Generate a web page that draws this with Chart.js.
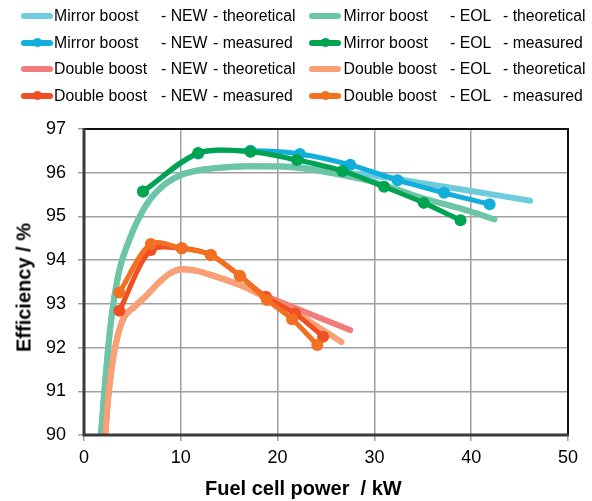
<!DOCTYPE html>
<html>
<head>
<meta charset="utf-8">
<script src="https://cdn.jsdelivr.net/npm/chart.js@4/dist/chart.umd.min.js"></script>
<style>
  html, body { margin: 0; padding: 0; background: #fff; }
  #wrap { position: relative; width: 592px; height: 501px; font-family: "Liberation Sans", Arial, sans-serif; color: #000; }
  #c { position: absolute; left: 0; top: 0; }
  .row { position: absolute; height: 20px; line-height: 20px; font-size: 15.8px; white-space: pre; }
  .row span { position: absolute; top: 0; }
  .smp { position: absolute; height: 6px; border-radius: 3px; }
  .dot { position: absolute; width: 9px; height: 9px; border-radius: 50%; }
  .xt { position: absolute; font-weight: bold; font-size: 20px; white-space: pre; }
  .yt { position: absolute; font-weight: bold; font-size: 20px; white-space: pre; transform: rotate(-90deg); transform-origin: center center; }
</style>
</head>
<body>
<div id="wrap">
  <canvas id="c" width="592" height="501"></canvas>
  <div id="legend"></div>
  <div class="xt" id="xtitle">Fuel cell power  / kW</div>
  <div class="yt" id="ytitle">Efficiency / %</div>
</div>
<script>
// ---- Data ----
const xTicks = [0, 10, 20, 30, 40, 50];
const yTicks = [90, 91, 92, 93, 94, 95, 96, 97];

// Mirror boost - NEW - theoretical
const mirrorNewTheoX = [1.75, 2.1, 2.5, 2.9, 3.4, 3.8, 4.4, 5.4, 6.8, 8.5, 10, 11.5, 13.4, 16.8, 20.3, 23.7, 26.5, 30, 35, 40, 46.1];
const mirrorNewTheoY = [90, 91, 92, 92.8, 93.5, 93.9, 94.3, 94.84, 95.38, 95.76, 95.95, 96.04, 96.1, 96.15, 96.15, 96.09, 96.01, 95.93, 95.76, 95.58, 95.36];
// Mirror boost - EOL - theoretical
const mirrorEolTheoX = [1.75, 2.1, 2.5, 2.9, 3.4, 3.8, 4.4, 5.4, 6.8, 8.5, 10, 11.5, 13.4, 16.8, 20.3, 23.7, 26.5, 30, 35, 40, 42.4];
const mirrorEolTheoY = [90, 91, 92, 92.8, 93.5, 93.9, 94.3, 94.84, 95.38, 95.76, 95.95, 96.04, 96.1, 96.15, 96.14, 96.06, 95.95, 95.78, 95.42, 95.11, 94.93];
// Mirror boost - NEW - measured
const mirrorNewMeasX = [6.1, 11.8, 17.2, 22.3, 27.5, 32.4, 37.2, 41.9];
const mirrorNewMeasY = [95.57, 96.44, 96.5, 96.43, 96.18, 95.83, 95.54, 95.28];
// Mirror boost - EOL - measured
const mirrorEolMeasX = [6.1, 11.8, 17.2, 22.0, 26.7, 31.0, 35.1, 38.9];
const mirrorEolMeasY = [95.57, 96.45, 96.48, 96.29, 96.04, 95.68, 95.31, 94.91];
// Double boost - NEW - theoretical
const doubleNewTheoX = [2.2, 2.5, 2.9, 3.4, 4.1, 5.2, 6.5, 7.7, 8.9, 10.1, 11.5, 13.4, 16.1, 18.9, 21, 24, 27.5];
const doubleNewTheoY = [90, 90.85, 91.6, 92.2, 92.68, 92.93, 93.2, 93.48, 93.7, 93.79, 93.76, 93.64, 93.43, 93.17, 92.98, 92.71, 92.4];
// Double boost - EOL - theoretical
const doubleEolTheoX = [2.2, 2.5, 2.9, 3.4, 4.1, 5.2, 6.5, 7.7, 8.9, 10.1, 11.5, 13.4, 16.1, 18.9, 21, 24, 26.6];
const doubleEolTheoY = [90, 90.85, 91.6, 92.2, 92.68, 92.93, 93.2, 93.48, 93.7, 93.79, 93.76, 93.64, 93.43, 93.13, 92.9, 92.5, 92.13];
// Double boost - NEW - measured
const doubleNewMeasX = [3.65, 6.9, 10.1, 13.1, 16.1, 18.8, 21.8, 24.7];
const doubleNewMeasY = [92.84, 94.23, 94.27, 94.12, 93.64, 93.16, 92.78, 92.25];
// Double boost - EOL - measured
const doubleEolMeasX = [3.65, 6.9, 10.1, 13.1, 16.1, 18.9, 21.5, 24.1];
const doubleEolMeasY = [93.26, 94.37, 94.27, 94.12, 93.64, 93.09, 92.65, 92.06];

const seriesNames = [
  ["Mirror boost ", "- NEW ", "- theoretical"],
  ["Mirror boost ", "- EOL ", "- theoretical"],
  ["Mirror boost ", "- NEW ", "- measured"],
  ["Mirror boost ", "- EOL ", "- measured"],
  ["Double boost ", "- NEW ", "- theoretical"],
  ["Double boost ", "- EOL ", "- theoretical"],
  ["Double boost ", "- NEW ", "- measured"],
  ["Double boost ", "- EOL ", "- measured"]
];
const colors = ["#6ecbdc", "#6cc5a5", "#12aedc", "#00a34f", "#f27b7b", "#f9a174", "#f04e23", "#f37021"];
const measured = [false, false, true, true, false, false, true, true];
const drawOrder = [8, 7, 4, 3, 6, 5, 2, 1]; // lower = drawn on top

const xs = [mirrorNewTheoX, mirrorEolTheoX, mirrorNewMeasX, mirrorEolMeasX, doubleNewTheoX, doubleEolTheoX, doubleNewMeasX, doubleEolMeasX];
const ys = [mirrorNewTheoY, mirrorEolTheoY, mirrorNewMeasY, mirrorEolMeasY, doubleNewTheoY, doubleEolTheoY, doubleNewMeasY, doubleEolMeasY];

const datasets = xs.map((xa, i) => ({
  label: seriesNames[i].join(''),
  data: xa.map((x, j) => ({ x: x, y: ys[i][j] })),
  borderColor: colors[i],
  backgroundColor: colors[i],
  borderWidth: measured[i] ? 5 : 6,
  pointRadius: measured[i] ? 6 : 0,
  pointHoverRadius: measured[i] ? 6 : 0,
  pointBorderWidth: 0,
  tension: measured[i] ? 0.3 : 0.4,
  cubicInterpolationMode: measured[i] ? 'default' : 'monotone',
  borderCapStyle: 'round',
  borderJoinStyle: 'round',
  fill: false,
  order: drawOrder[i]
}));

// ---- Legend (HTML) ----
const legend = document.getElementById('legend');
const rowY = [16, 42.5, 69, 95.5];
const colDefs = [
  { sx: 21, t: [54, 161, 213] },
  { sx: 309, t: [343.5, 450, 503] }
];
seriesNames.forEach((nm, i) => {
  const col = colDefs[i % 2];
  const y = rowY[Math.floor(i / 2)];
  const s = document.createElement('div');
  s.className = 'smp';
  s.style.left = col.sx + 'px';
  s.style.width = '32px';
  s.style.top = (y - 3) + 'px';
  s.style.background = colors[i];
  legend.appendChild(s);
  if (measured[i]) {
    const d = document.createElement('div');
    d.className = 'dot';
    d.style.left = (col.sx + 16 - 4.5) + 'px';
    d.style.top = (y - 4.5) + 'px';
    d.style.background = colors[i];
    legend.appendChild(d);
  }
  const r = document.createElement('div');
  r.className = 'row';
  r.style.left = '0px';
  r.style.top = (y - 10) + 'px';
  r.style.width = '592px';
  nm.forEach((part, k) => {
    const sp = document.createElement('span');
    sp.textContent = part;
    sp.style.left = col.t[k] + 'px';
    r.appendChild(sp);
  });
  legend.appendChild(r);
});

// axis titles
const xt = document.getElementById('xtitle');
xt.style.left = '205px';
xt.style.top = '477px';
const yt = document.getElementById('ytitle');
yt.style.left = (24 - 70) + 'px';
yt.style.top = (288 - 12) + 'px';
yt.style.width = '140px';
yt.style.textAlign = 'center';

const framePlugin = {
  id: 'frame',
  afterDatasetsDraw(chart) {
    const { ctx, chartArea: a } = chart;
    ctx.save();
    ctx.strokeStyle = '#111';
    ctx.lineWidth = 2;
    ctx.beginPath();
    ctx.moveTo(a.left, a.top);
    ctx.lineTo(a.right, a.top);
    ctx.lineTo(a.right, a.bottom);
    ctx.stroke();
    ctx.strokeStyle = '#3a3a3a';
    ctx.lineWidth = 3;
    ctx.beginPath();
    ctx.moveTo(a.left, a.top - 1);
    ctx.lineTo(a.left, a.bottom);
    ctx.lineTo(a.right + 1, a.bottom);
    ctx.stroke();
    ctx.restore();
  }
};

new Chart(document.getElementById('c'), {
  type: 'line',
  data: { datasets: datasets },
  plugins: [framePlugin],
  options: {
    responsive: false,
    animation: false,
    events: [],
    layout: { padding: { left: 0, top: 129, right: 24, bottom: 0 } },
    plugins: { legend: { display: false }, tooltip: { enabled: false } },
    scales: {
      x: {
        type: 'linear',
        min: xTicks[0], max: xTicks[xTicks.length - 1],
        afterBuildTicks(s) { s.ticks = xTicks.map(v => ({ value: v })); },
        afterFit(s) { s.height = 66; },
        grid: { color: '#a0a0a0', lineWidth: 1.5, tickLength: 6, drawTicks: true },
        border: { display: false },
        ticks: { color: '#000', font: { family: 'Liberation Sans', size: 18 }, padding: 6, maxRotation: 0 }
      },
      y: {
        type: 'linear',
        min: yTicks[0], max: yTicks[yTicks.length - 1],
        afterBuildTicks(s) { s.ticks = yTicks.map(v => ({ value: v })); },
        afterFit(s) { s.width = 84; },
        grid: { color: '#a0a0a0', lineWidth: 1.5, tickLength: 6, drawTicks: true },
        border: { display: false },
        ticks: { color: '#000', font: { family: 'Liberation Sans', size: 18 }, padding: 12 }
      }
    }
  }
});
</script>
</body>
</html>
